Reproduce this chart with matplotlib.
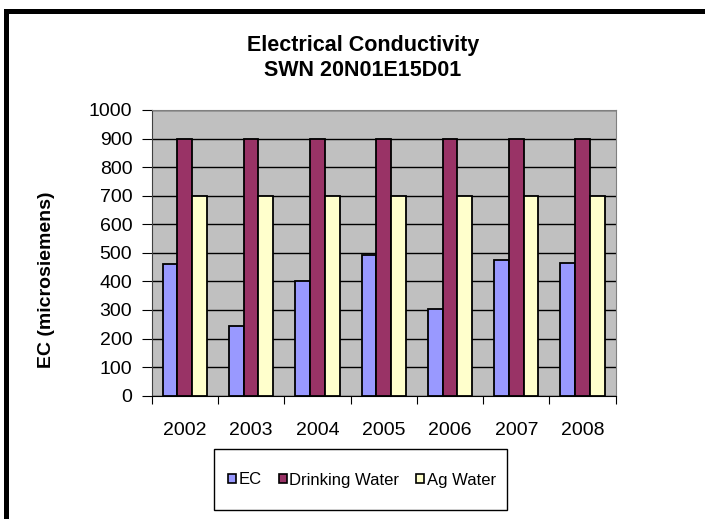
import numpy as np
import matplotlib
matplotlib.use("Agg")
import matplotlib.pyplot as plt
from matplotlib.patches import Rectangle, Patch

plt.rcParams['font.family'] = ['Liberation Sans', 'DejaVu Sans']

years = ['2002', '2003', '2004', '2005', '2006', '2007', '2008']
ec = [462, 243, 402, 494, 303, 474, 465]
drinking_water = [900, 900, 900, 900, 900, 900, 900]
ag_water = [700, 700, 700, 700, 700, 700, 700]

series_names = ['EC', 'Drinking Water', 'Ag Water']
colors = ['#9999FF', '#993366', '#FFFFCC']

fig = plt.figure(figsize=(7.05, 5.19), dpi=100)
W, H = 705, 519

# outer chart border (left and top edges show, the rest runs off the sheet)
fig.patches.append(Rectangle((5.5 / W, -0.1), 1.2, 1 - 10.5 / H + 0.1,
                             transform=fig.transFigure, fill=False,
                             edgecolor='black', linewidth=3.6))

ax = fig.add_axes([151.7 / W, 1 - 395.7 / H, (615.7 - 151.7) / W, (395.7 - 110) / H])
ax.set_facecolor('#C0C0C0')

x = np.arange(len(years))
w = 1 / 4.5
for i, (vals, c) in enumerate(zip([ec, drinking_water, ag_water], colors)):
    ax.bar(x + (i - 1) * w, vals, width=w, color=c, edgecolor='black',
           linewidth=1.3, zorder=3)

ax.set_xlim(-0.5, len(years) - 0.5)
ax.set_ylim(0, 1000)
ax.set_yticks(np.arange(0, 1001, 100))
ax.yaxis.grid(True, color='black', linewidth=1.0, zorder=1)
ax.set_axisbelow(True)

# category boundaries get the tick marks, labels sit at category centres
ax.set_xticks(np.arange(-0.5, len(years)), minor=False)
ax.set_xticklabels([])
ax.set_xticks(x, minor=True)
ax.set_xticklabels(years, minor=True)
ax.tick_params(axis='x', which='major', length=6, width=0.8, color='black')
ax.tick_params(axis='x', which='minor', length=0, pad=19, labelsize=14)
ax.tick_params(axis='y', length=7, width=0.8, color='black', labelsize=14, pad=7)

for side in ['top', 'right']:
    ax.spines[side].set_color('#808080')
ax.spines['left'].set_color('#404040')
ax.spines['bottom'].set_color('black')

fig.text(363 / W, 1 - 46 / H, 'Electrical Conductivity', ha='center', va='center',
         fontsize=15.5, fontweight='bold')
fig.text(363 / W, 1 - 70 / H, 'SWN 20N01E15D01', ha='center', va='center',
         fontsize=15.5, fontweight='bold')
fig.text(47 / W, 1 - 280 / H, 'EC (microsiemens)', ha='center', va='center',
         rotation=90, fontsize=14, fontweight='bold')

# legend box below the plot
fig.patches.append(Rectangle((214 / W, 1 - 510 / H), (507 - 214) / W, (510 - 449) / H,
                             transform=fig.transFigure, fill=False,
                             edgecolor='black', linewidth=1.0))
handles = [Patch(facecolor=c, edgecolor='black', linewidth=1.2) for c in colors]
fig.legend(handles, series_names, loc='center', bbox_to_anchor=(362 / W, 1 - 480 / H),
           ncol=3, frameon=False, fontsize=12, handlelength=0.5, handleheight=0.5,
           handletextpad=0.15, columnspacing=1.0)

fig.savefig('out.png', dpi=100)
